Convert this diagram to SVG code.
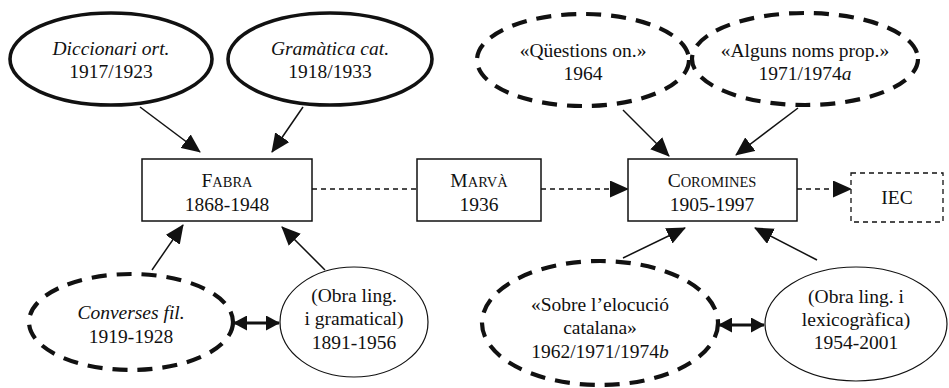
<svg xmlns="http://www.w3.org/2000/svg" width="949" height="388" viewBox="0 0 949 388">
<style>
text{font-family:"Liberation Serif","Times New Roman",serif;font-size:19.5px;fill:#111;text-anchor:middle}
.it{font-style:italic}
.sc{font-size:14.5px}
.thick{fill:#fff;stroke:#111;stroke-width:3.6}
.dash{fill:#fff;stroke:#111;stroke-width:4.2;stroke-dasharray:15 10}
.thin{fill:#fff;stroke:#111;stroke-width:1.2}
.box{fill:#fff;stroke:#111;stroke-width:1.5}
.dbox{fill:#fff;stroke:#111;stroke-width:1.3;stroke-dasharray:5 4}
.c{stroke:#111;stroke-width:1.5;fill:none}
.cd{stroke:#111;stroke-width:1.5;fill:none;stroke-dasharray:5 4}
.cb{stroke:#111;stroke-width:2.8;fill:none}
</style>
<defs>
<marker id="ah" markerUnits="userSpaceOnUse" markerWidth="19" markerHeight="17" viewBox="0 0 19 17" refX="18" refY="8.5" orient="auto-start-reverse">
<path d="M0,0 L19,8.5 L0,17 z" fill="#111"/>
</marker>
<marker id="as" markerUnits="userSpaceOnUse" markerWidth="14" markerHeight="15" viewBox="0 0 14 15" refX="13" refY="7.5" orient="auto-start-reverse">
<path d="M0,0 L14,7.5 L0,15 z" fill="#111"/>
</marker>
</defs>
<g id="connectors">
<line class="c" x1="140" y1="107" x2="200" y2="152" marker-end="url(#ah)"/>
<line class="c" x1="303" y1="107" x2="272" y2="152" marker-end="url(#ah)"/>
<line class="c" x1="623" y1="110" x2="669" y2="156" marker-end="url(#ah)"/>
<line class="c" x1="798" y1="108" x2="736" y2="155" marker-end="url(#ah)"/>
<line class="c" x1="152" y1="270" x2="183" y2="225" marker-end="url(#ah)"/>
<line class="c" x1="325" y1="270" x2="282" y2="227" marker-end="url(#ah)"/>
<line class="c" x1="623" y1="258" x2="685" y2="228" marker-end="url(#ah)"/>
<line class="c" x1="817" y1="260" x2="755" y2="228" marker-end="url(#ah)"/>
<line class="cd" x1="312" y1="189" x2="417" y2="189"/>
<line class="cd" x1="541" y1="189" x2="628" y2="189" marker-end="url(#ah)"/>
<line class="cd" x1="797" y1="189" x2="851" y2="189" marker-end="url(#ah)"/>
<line class="cb" x1="234" y1="323" x2="279" y2="323" marker-start="url(#as)" marker-end="url(#as)"/>
<line class="cb" x1="719" y1="325" x2="764" y2="325" marker-start="url(#as)" marker-end="url(#as)"/>
</g>
<g id="n-diccionari">
<ellipse class="thick" cx="111" cy="59" rx="101" ry="46"/>
<text x="111" y="55" class="it">Diccionari ort.</text>
<text x="111" y="78">1917/1923</text>
</g>
<g id="n-gramatica">
<ellipse class="thick" cx="330" cy="59" rx="102" ry="46"/>
<text x="330" y="55" class="it">Gramàtica cat.</text>
<text x="330" y="78">1918/1933</text>
</g>
<g id="n-questions">
<ellipse class="dash" cx="583" cy="60" rx="106" ry="46"/>
<text x="583" y="57">«Qüestions on.»</text>
<text x="583" y="80">1964</text>
</g>
<g id="n-alguns">
<ellipse class="dash" cx="805" cy="59" rx="113" ry="46"/>
<text x="805" y="57">«Alguns noms prop.»</text>
<text x="805" y="80">1971/1974<tspan class="it">a</tspan></text>
</g>
<g id="n-fabra">
<rect class="box" x="142" y="159" width="170" height="62"/>
<text x="227" y="187">F<tspan class="sc">ABRA</tspan></text>
<text x="227" y="211">1868-1948</text>
</g>
<g id="n-marva">
<rect class="box" x="417" y="159" width="124" height="62"/>
<text x="479" y="187">M<tspan class="sc">ARVÀ</tspan></text>
<text x="479" y="211">1936</text>
</g>
<g id="n-coromines">
<rect class="box" x="628" y="159" width="169" height="62"/>
<text x="712" y="187">C<tspan class="sc">OROMINES</tspan></text>
<text x="712" y="211">1905-1997</text>
</g>
<g id="n-iec">
<rect class="dbox" x="851" y="173" width="92" height="49"/>
<text x="897" y="204">IEC</text>
</g>
<g id="n-converses">
<ellipse class="dash" cx="131" cy="322" rx="102" ry="48"/>
<text x="131" y="319" class="it">Converses fil.</text>
<text x="131" y="343">1919-1928</text>
</g>
<g id="n-obragram">
<ellipse class="thin" cx="354" cy="322" rx="74" ry="55"/>
<text x="354" y="302">(Obra ling.</text>
<text x="354" y="325">i gramatical)</text>
<text x="354" y="349">1891-1956</text>
</g>
<g id="n-sobre">
<ellipse class="dash" cx="600" cy="323" rx="118" ry="62"/>
<text x="600" y="311">«Sobre l’elocució</text>
<text x="600" y="334">catalana»</text>
<text x="600" y="358">1962/1971/1974<tspan class="it">b</tspan></text>
</g>
<g id="n-obralex">
<ellipse class="thin" cx="856" cy="324" rx="91" ry="57"/>
<text x="856" y="303">(Obra ling. i</text>
<text x="856" y="326">lexicogràfica)</text>
<text x="856" y="349">1954-2001</text>
</g>
</svg>
